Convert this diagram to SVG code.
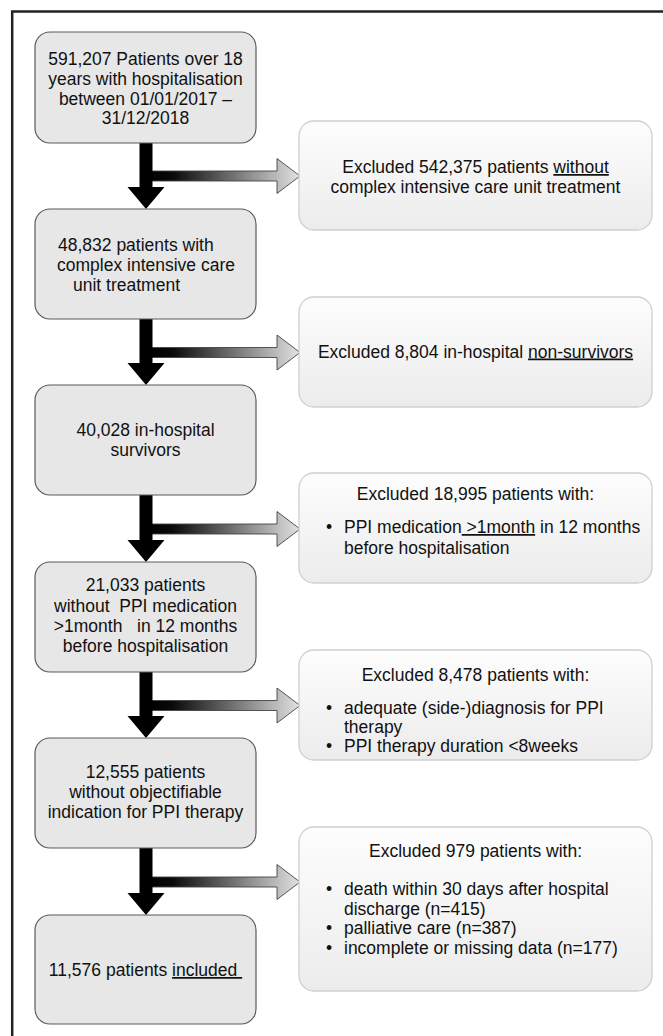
<svg xmlns="http://www.w3.org/2000/svg" width="663" height="1036" viewBox="0 0 663 1036">
<style>
  text { font-family: "Liberation Sans", Arial, sans-serif; font-size: 17.5px; fill: #111; }
  .c { text-anchor: middle; }
  .pre { white-space: pre; }
  .lbox { fill: #e7e7e7; stroke: #5a5a5a; stroke-width: 1.2; }
  .rbox { fill: url(#rg); stroke: #cfcfcf; stroke-width: 1.3; }
  .varr { fill: #000; }
  .harr { fill: url(#hg); stroke: #444; stroke-width: 0.9; }
  .u { text-decoration: underline; }
</style>
<defs>
  <linearGradient id="rg" x1="0" y1="0" x2="0" y2="1">
    <stop offset="0" stop-color="#fdfdfd"/>
    <stop offset="1" stop-color="#ececec"/>
  </linearGradient>
  <linearGradient id="hg" x1="0" y1="0" x2="1" y2="0">
    <stop offset="0" stop-color="#000"/>
    <stop offset="0.15" stop-color="#0a0a0a"/>
    <stop offset="0.8" stop-color="#b0b0b0"/>
    <stop offset="1" stop-color="#e2e2e2"/>
  </linearGradient>
</defs>
<rect width="663" height="1036" fill="#fff"/>
<rect x="12.2" y="11.5" width="720" height="1100" fill="none" stroke="#222" stroke-width="2.5"/>

<g id="connectors">
  <path class="harr" d="M150,171 H277 V158.5 L300,176 L277,193.5 V181 H150 Z"/>
  <path class="varr" d="M139.5,143 H152.5 V187 H164.5 L146,209 L127.5,187 H139.5 Z"/>
  <path class="harr" d="M150,347.5 H277 V335 L300,352.5 L277,370 V357.5 H150 Z"/>
  <path class="varr" d="M139.5,319 H152.5 V363 H164.5 L146,385 L127.5,363 H139.5 Z"/>
  <path class="harr" d="M150,524 H277 V511.5 L300,529 L277,546.5 V534 H150 Z"/>
  <path class="varr" d="M139.5,495 H152.5 V540 H164.5 L146,562 L127.5,540 H139.5 Z"/>
  <path class="harr" d="M150,700.5 H277 V688 L300,705.5 L277,723 V710.5 H150 Z"/>
  <path class="varr" d="M139.5,672 H152.5 V716 H164.5 L146,738 L127.5,716 H139.5 Z"/>
  <path class="harr" d="M150,877 H277 V864.5 L300,882 L277,899.5 V887 H150 Z"/>
  <path class="varr" d="M139.5,848 H152.5 V893 H164.5 L146,915 L127.5,893 H139.5 Z"/>
</g>

<g id="n1">
  <rect class="lbox" x="35" y="32" width="221" height="111" rx="15"/>
  <text class="c" x="145.5" y="65">591,207 Patients over 18</text>
  <text class="c" x="145.5" y="85">years with hospitalisation</text>
  <text class="c" x="145.5" y="104.5">between 01/01/2017 –</text>
  <text class="c" x="145.5" y="124">31/12/2018</text>
</g>
<g id="n2">
  <rect class="lbox" x="35" y="209" width="221" height="110" rx="15"/>
  <text x="58" y="251">48,832 patients with</text>
  <text x="57" y="271">complex intensive care</text>
  <text x="73" y="291">unit treatment</text>
</g>
<g id="n3">
  <rect class="lbox" x="35" y="385" width="221" height="110" rx="15"/>
  <text class="c" x="145.5" y="436">40,028 in-hospital</text>
  <text class="c" x="145.5" y="456">survivors</text>
</g>
<g id="n4">
  <rect class="lbox" x="35" y="562" width="221" height="110" rx="15"/>
  <text class="c" x="145.5" y="591">21,033 patients</text>
  <text class="c pre" x="145.5" y="611.5">without  PPI medication</text>
  <text class="c pre" x="145.5" y="632">&gt;1month   in 12 months</text>
  <text class="c" x="145.5" y="652">before hospitalisation</text>
</g>
<g id="n5">
  <rect class="lbox" x="35" y="738" width="221" height="110" rx="15"/>
  <text class="c" x="145.5" y="778">12,555 patients</text>
  <text class="c" x="145.5" y="798">without objectifiable</text>
  <text class="c" x="145.5" y="818">indication for PPI therapy</text>
</g>
<g id="n6">
  <rect class="lbox" x="35" y="915" width="221" height="109" rx="15"/>
  <text class="c pre" x="145.5" y="976">11,576 patients <tspan class="u">included </tspan></text>
</g>

<g id="r1">
  <rect class="rbox" x="299" y="121" width="353" height="109" rx="15"/>
  <text class="c" x="475.5" y="173">Excluded 542,375 patients <tspan class="u">without</tspan></text>
  <text class="c" x="475.5" y="192.5">complex intensive care unit treatment</text>
</g>
<g id="r2">
  <rect class="rbox" x="299" y="297" width="353" height="110" rx="15"/>
  <text class="c" x="475.5" y="357.5">Excluded 8,804 in-hospital <tspan class="u">non-survivors</tspan></text>
</g>
<g id="r3">
  <rect class="rbox" x="299" y="473" width="353" height="110" rx="15"/>
  <text class="c" x="475.5" y="500">Excluded 18,995 patients with:</text>
  <text x="326" y="533">•</text>
  <text class="pre" x="344" y="533">PPI medication<tspan class="u"> &gt;1month</tspan> in 12 months</text>
  <text x="344" y="553.5">before hospitalisation</text>
</g>
<g id="r4">
  <rect class="rbox" x="299" y="650" width="353" height="110" rx="15"/>
  <text class="c" x="475.5" y="681">Excluded 8,478 patients with:</text>
  <text x="326" y="714">•</text>
  <text x="344" y="714">adequate (side-)diagnosis for PPI</text>
  <text x="344" y="733">therapy</text>
  <text x="326" y="752">•</text>
  <text x="344" y="752">PPI therapy duration &lt;8weeks</text>
</g>
<g id="r5">
  <rect class="rbox" x="299" y="827" width="353" height="164" rx="15"/>
  <text class="c" x="475.5" y="857">Excluded 979 patients with:</text>
  <text x="326" y="895">•</text>
  <text x="344" y="895">death within 30 days after hospital</text>
  <text x="344" y="914.5">discharge (n=415)</text>
  <text x="326" y="934">•</text>
  <text x="344" y="934">palliative care (n=387)</text>
  <text x="326" y="953.5">•</text>
  <text x="344" y="953.5">incomplete or missing data (n=177)</text>
</g>
</svg>
